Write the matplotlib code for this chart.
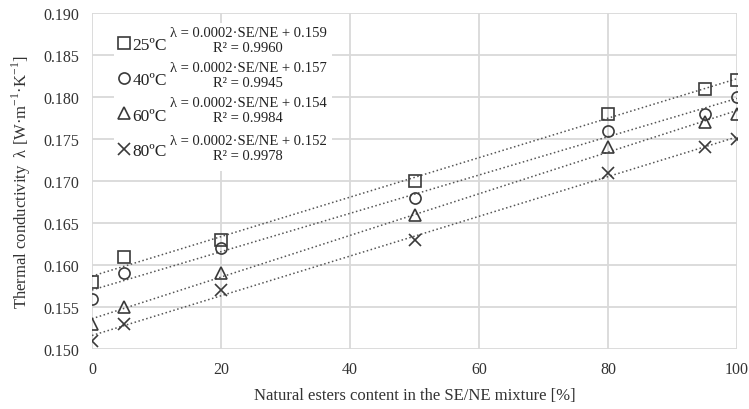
import numpy as np
import matplotlib
matplotlib.use('Agg')
import matplotlib.pyplot as plt
from matplotlib.lines import Line2D
from matplotlib.patches import Rectangle

plt.rcParams['font.family'] = ['Liberation Serif', 'DejaVu Serif']
plt.rcParams['mathtext.fontset'] = 'custom'
plt.rcParams['mathtext.rm'] = 'Liberation Serif'

# data
content = [0, 5, 20, 50, 80, 95, 100]
t25 = [0.158, 0.161, 0.163, 0.170, 0.178, 0.181, 0.182]
t40 = [0.156, 0.159, 0.162, 0.168, 0.176, 0.178, 0.180]
t60 = [0.153, 0.155, 0.159, 0.166, 0.174, 0.177, 0.178]
t80 = [0.151, 0.153, 0.157, 0.163, 0.171, 0.174, 0.175]
labels = ['25ºC', '40ºC', '60ºC', '80ºC']
equations = ['λ = 0.0002·SE/NE + 0.159\nR² = 0.9960',
             'λ = 0.0002·SE/NE + 0.157\nR² = 0.9945',
             'λ = 0.0002·SE/NE + 0.154\nR² = 0.9984',
             'λ = 0.0002·SE/NE + 0.152\nR² = 0.9978']
markers = ['s', 'o', '^', 'x']
series = [t25, t40, t60, t80]

col = '#3a3a3a'

fig = plt.figure(figsize=(7.49, 4.1), dpi=100)
ax = fig.add_axes([92/749, 60/410, 645/749, 336/410])

xfit = np.array([0, 100])
for y, m in zip(series, markers):
    k, b = np.polyfit(content, y, 1)
    ax.plot(xfit, k*xfit + b, ':', color='#555555', lw=1.1, zorder=2)
    ax.plot(content, y, m, color=col, mfc='none', mec=col, ms=8, mew=1.2, zorder=3)

ax.set_xlim(0, 100)
ax.set_ylim(0.150, 0.190)
ax.set_xticks(np.arange(0, 101, 20))
ax.set_yticks(np.arange(0.150, 0.1901, 0.005))
ax.yaxis.set_major_formatter(matplotlib.ticker.FormatStrFormatter('%.3f'))
ax.grid(True, color='#d9d9d9', lw=1.3)
ax.set_axisbelow(True)
for s in ax.spines.values():
    s.set_visible(False)
ax.tick_params(length=0, labelsize=11.5, labelcolor='#333333', pad=9)

ax.set_xlabel('Natural esters content in the SE/NE mixture [%]', fontsize=12, color='#333333', labelpad=7)
ax.set_ylabel('Thermal conductivity  λ [W·m$^{-1}$·K$^{-1}$]', fontsize=12, color='#333333', labelpad=8)

def ax_xy(px, py):
    return (px - 92) / 645, (350 - py) / 336

# legend area
x0, y0 = ax_xy(114, 172)
x1, y1 = ax_xy(332, 24)
ax.add_patch(Rectangle((x0, y0), x1 - x0, y1 - y0, transform=ax.transAxes,
                       facecolor='white', edgecolor='none', zorder=1))

handles = [Line2D([], [], marker=m, ls='none', color=col, mfc='none', mec=col, ms=8, mew=1.2)
           for m in markers]
lx, ly = ax_xy(103, 24)
ax.legend(handles, labels, loc='upper left', bbox_to_anchor=(lx, ly), frameon=False,
          fontsize=12.5, handlelength=0.8, handletextpad=0.1, labelspacing=1.1,
          borderpad=0.3, labelcolor='#222222')

eq_y = [41, 76, 111, 149]
for e, py in zip(equations, eq_y):
    tx, ty = ax_xy(248, py)
    ax.text(tx, ty, e, transform=ax.transAxes, ha='center', va='center',
            fontsize=10.5, color='#222222', linespacing=1.15, zorder=4)

fig.savefig('out.png', dpi=100)
